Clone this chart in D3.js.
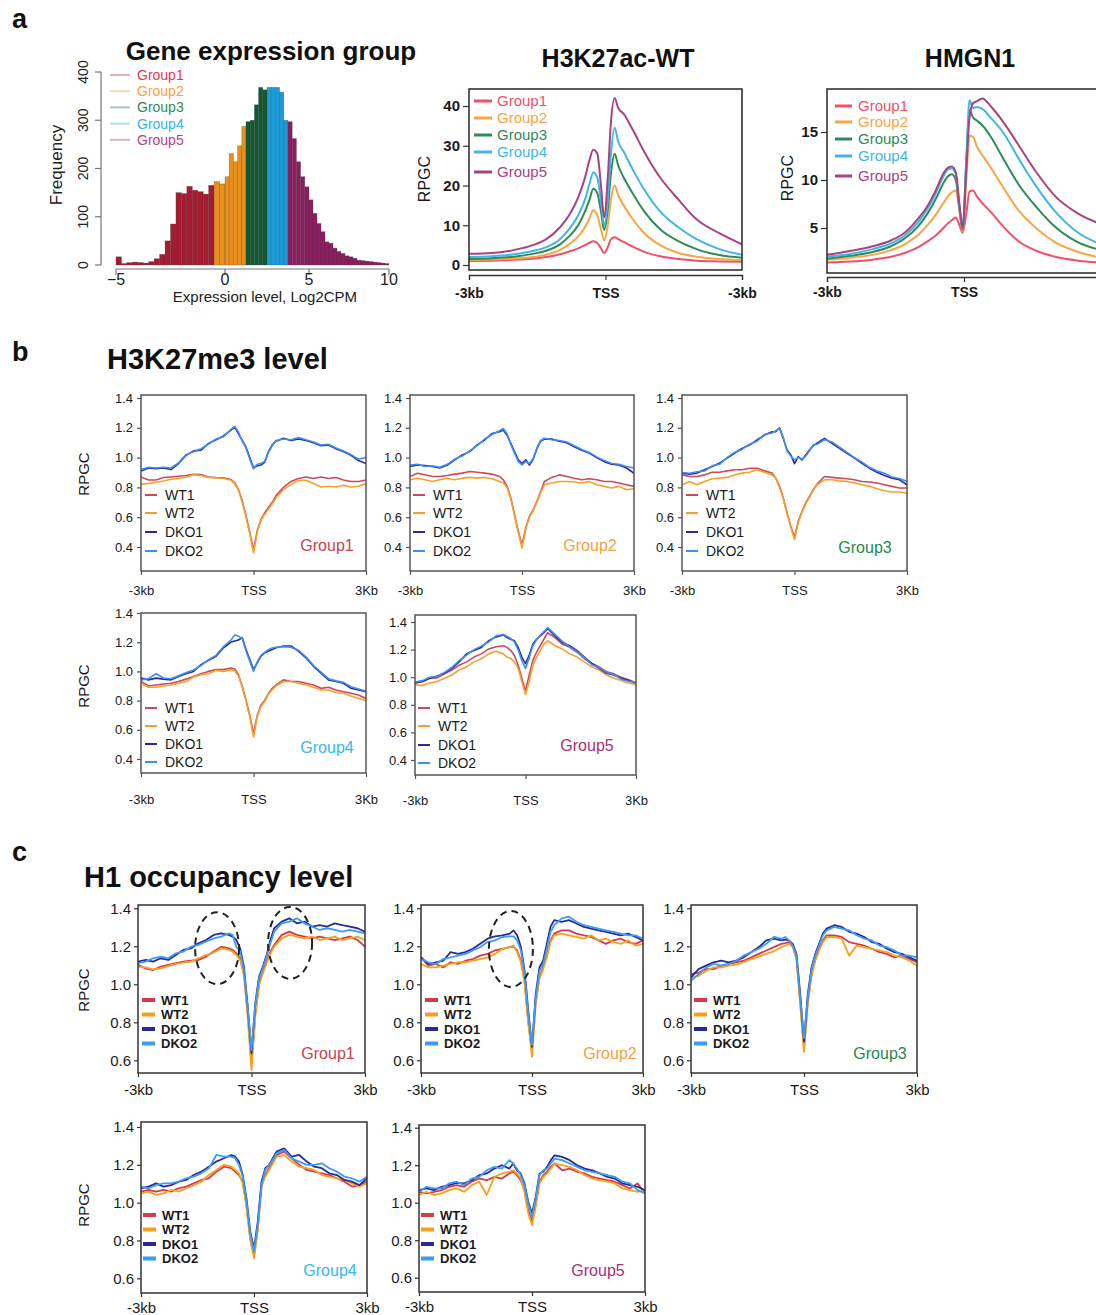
<!DOCTYPE html>
<html><head><meta charset="utf-8">
<script src="https://cdn.jsdelivr.net/npm/d3@7/dist/d3.min.js"></script>
<style>
body{margin:0;background:#fff;}
svg{display:block;}
</style></head><body>
<svg id="fig" width="1096" height="1315"></svg>
<script>
// ================= DATA =================
// Histogram (panel a, left)
const histBinStart = [-5,-4.75,-4.5,-4.25,-4,-3.75,-3.5,-3.25,-3,-2.75,-2.5,-2.25,-2,-1.75,-1.5,-1.25,-1,-0.75,-0.5,-0.25,
  0,0.25,0.5,0.75,1,1.25,1.5,1.75,2,2.25,2.5,2.75,3,3.25,3.5,3.75,4,4.25,4.5,4.75,
  5,5.25,5.5,5.75,6,6.25,6.5,6.75,7,7.25,7.5,7.75,8,8.25,8.5,8.75,9,9.25,9.5,9.75];
const histBinWidth = 0.25;
const histCounts = [17,3,5,6,5,4,7,13,22,50,85,150,148,163,155,152,147,165,173,168,
  183,231,214,247,287,297,300,332,368,363,368,368,368,358,300,297,262,214,183,162,
  135,107,86,69,48,45,35,28,24,19,17,14,10,9,8,7,6,5,4,3];
const groupBreaks = [-0.5, 1.25, 2.5, 3.75];
const groupNames = ["Group1","Group2","Group3","Group4","Group5"];
const histXTicks = [-5, 0, 5, 10];
const histYTicks = [0, 100, 200, 300, 400];

// Profiles (panel a, H3K27ac-WT and HMGN1), positions in kb
const aPos = [-3,-2.5,-2,-1.6,-1.3,-1.0,-0.8,-0.6,-0.45,-0.35,-0.27,-0.18,-0.1,-0.03,0.05,0.12,0.2,0.28,0.4,0.6,0.85,1.2,1.6,2.0,2.5,3.0];
const acG1 = [1.0,1.1,1.3,1.6,2.0,2.7,3.4,4.2,5.0,5.6,6.0,5.5,4.2,3.0,4.5,6.5,7.0,6.5,5.8,4.6,3.3,2.2,1.5,1.1,0.9,0.8];
const acG2 = [1.2,1.4,1.6,2.0,2.6,3.8,5.2,7.2,9.5,11.8,13.8,12.5,9.0,6.2,10.0,16.5,20.0,17.5,15.0,11.5,8.0,5.0,3.0,2.1,1.5,1.2];
const acG3 = [1.5,1.7,2.1,2.8,3.6,5.2,7.2,10.0,13.5,16.5,19.2,18.0,13.5,8.8,14.0,23.0,28.0,25.0,22.0,18.0,13.5,9.0,6.0,4.0,2.5,1.8];
const acG4 = [2.0,2.2,2.7,3.5,4.5,6.5,9.0,12.5,16.5,20.5,23.3,22.0,16.0,10.0,16.0,28.0,34.5,31.0,28.5,24.0,19.0,13.5,9.5,6.5,4.0,2.6];
const acG5 = [2.8,3.0,3.8,5.0,6.5,9.5,12.5,17.0,22.0,26.5,29.0,28.0,20.0,12.0,22.0,36.0,42.0,39.5,38.0,34.0,28.5,22.0,16.5,11.5,8.0,5.2];
const hmG1 = [1.4,1.5,1.7,2.0,2.4,3.0,3.6,4.3,5.0,5.5,5.8,6.1,5.3,4.5,6.5,8.8,8.9,8.3,7.6,6.6,5.2,3.6,2.6,2.0,1.6,1.4];
const hmG2 = [1.7,1.9,2.2,2.7,3.3,4.3,5.3,6.5,7.6,8.3,8.7,8.9,6.8,4.6,10.0,14.6,14.5,13.5,12.6,11.2,9.3,6.8,4.9,3.5,2.5,1.9];
const hmG3 = [1.8,2.1,2.5,3.1,3.9,5.2,6.5,8.2,9.7,10.4,10.6,10.0,7.0,4.8,12.0,17.3,16.5,16.2,15.7,14.4,12.3,9.5,7.1,5.1,3.5,2.7];
const hmG4 = [2.0,2.3,2.8,3.4,4.2,5.6,7.0,8.8,10.4,11.1,11.2,10.6,7.3,4.9,12.0,18.3,17.5,17.6,17.4,16.4,15.0,12.2,9.2,6.7,4.5,3.3];
const hmG5 = [2.2,2.6,3.1,3.7,4.5,6.0,7.3,9.1,10.7,11.3,11.4,10.8,7.5,5.0,11.0,16.5,18.0,18.2,18.5,17.6,16.1,13.6,10.7,8.3,6.5,5.4];

// Profiles (panels b and c), positions in kb
const bcPos = [-3.0,-2.8,-2.6,-2.4,-2.2,-2.0,-1.8,-1.6,-1.4,-1.2,-1.0,-0.8,-0.6,-0.5,-0.4,-0.3,-0.2,-0.1,0,0.1,0.2,0.3,0.4,0.5,0.6,0.8,1.0,1.2,1.4,1.6,1.8,2.0,2.2,2.4,2.6,2.8,3.0];
const sampleNames = ["WT1","WT2","DKO1","DKO2"];

// H3K27me3 (panel b)
const me3G1_WT1 = [0.87,0.85,0.85,0.866,0.87,0.875,0.88,0.888,0.886,0.87,0.866,0.864,0.853,0.83,0.785,0.71,0.61,0.50,0.38,0.51,0.585,0.63,0.665,0.70,0.745,0.80,0.84,0.86,0.87,0.86,0.87,0.86,0.866,0.85,0.84,0.84,0.85];
const me3G1_WT2 = [0.82,0.826,0.835,0.843,0.855,0.86,0.868,0.885,0.88,0.866,0.864,0.86,0.848,0.825,0.78,0.70,0.60,0.49,0.36,0.50,0.58,0.62,0.655,0.69,0.73,0.785,0.82,0.848,0.848,0.826,0.803,0.808,0.803,0.814,0.803,0.808,0.826];
const me3G1_DKO1 = [0.91,0.93,0.925,0.93,0.92,0.96,1.015,1.045,1.05,1.095,1.12,1.145,1.185,1.205,1.16,1.115,1.07,1.0,0.93,0.945,0.95,0.97,1.04,1.085,1.11,1.13,1.115,1.125,1.115,1.1,1.08,1.085,1.06,1.04,1.015,0.98,0.96];
const me3G1_DKO2 = [0.92,0.935,0.93,0.935,0.93,0.965,1.02,1.04,1.06,1.09,1.125,1.14,1.19,1.21,1.17,1.11,1.065,0.99,0.925,0.955,0.96,0.975,1.035,1.08,1.115,1.125,1.12,1.135,1.12,1.105,1.085,1.09,1.065,1.045,1.02,0.99,1.0];
const me3G2_WT1 = [0.873,0.895,0.885,0.873,0.873,0.88,0.889,0.896,0.907,0.902,0.896,0.889,0.873,0.851,0.807,0.73,0.618,0.507,0.41,0.53,0.607,0.65,0.707,0.773,0.84,0.867,0.884,0.873,0.862,0.851,0.858,0.851,0.84,0.84,0.829,0.818,0.807];
const me3G2_WT2 = [0.851,0.862,0.851,0.84,0.851,0.862,0.851,0.862,0.867,0.862,0.867,0.858,0.84,0.829,0.80,0.725,0.61,0.50,0.395,0.52,0.60,0.645,0.70,0.765,0.818,0.829,0.84,0.84,0.836,0.829,0.84,0.818,0.807,0.796,0.807,0.784,0.791];
const me3G2_DKO1 = [0.94,0.95,0.947,0.94,0.93,0.95,0.985,1.018,1.04,1.085,1.118,1.162,1.173,1.185,1.15,1.095,1.04,0.985,0.96,0.985,0.95,0.99,1.06,1.11,1.124,1.124,1.11,1.10,1.073,1.05,1.03,1.0,0.973,0.955,0.95,0.93,0.895];
const me3G2_DKO2 = [0.95,0.955,0.94,0.945,0.935,0.955,0.99,1.01,1.045,1.08,1.125,1.155,1.18,1.195,1.16,1.09,1.03,0.975,0.95,0.975,0.96,0.995,1.065,1.115,1.13,1.12,1.115,1.105,1.08,1.055,1.035,1.005,0.98,0.96,0.955,0.94,0.93];
const me3G3_WT1 = [0.884,0.873,0.873,0.884,0.902,0.902,0.911,0.918,0.918,0.929,0.929,0.911,0.896,0.862,0.807,0.73,0.63,0.54,0.465,0.573,0.64,0.696,0.74,0.784,0.822,0.873,0.867,0.862,0.858,0.851,0.84,0.836,0.829,0.818,0.807,0.796,0.796];
const me3G3_WT2 = [0.818,0.84,0.818,0.84,0.858,0.862,0.867,0.884,0.896,0.902,0.918,0.902,0.884,0.862,0.80,0.725,0.625,0.535,0.45,0.565,0.635,0.69,0.735,0.78,0.818,0.851,0.851,0.844,0.84,0.829,0.818,0.807,0.791,0.778,0.769,0.769,0.762];
const me3G3_DKO1 = [0.896,0.889,0.896,0.918,0.94,0.962,0.996,1.029,1.062,1.084,1.118,1.151,1.173,1.173,1.2,1.129,1.051,1.018,0.96,1.007,0.984,1.018,1.051,1.08,1.096,1.129,1.096,1.062,1.029,0.996,0.962,0.929,0.902,0.88,0.862,0.851,0.818];
const me3G3_DKO2 = [0.90,0.895,0.905,0.91,0.945,0.955,1.0,1.035,1.055,1.09,1.11,1.155,1.165,1.18,1.195,1.135,1.045,1.01,0.985,1.0,0.99,1.01,1.045,1.085,1.09,1.12,1.105,1.07,1.035,1.0,0.97,0.935,0.91,0.895,0.87,0.86,0.84];
const me3G4_WT1 = [0.931,0.9,0.907,0.914,0.919,0.931,0.947,0.965,0.984,1.0,1.012,1.012,1.023,1.016,0.977,0.896,0.803,0.70,0.572,0.70,0.769,0.803,0.85,0.884,0.907,0.942,0.931,0.931,0.919,0.907,0.884,0.891,0.873,0.861,0.85,0.838,0.815];
const me3G4_WT2 = [0.919,0.891,0.891,0.9,0.907,0.919,0.931,0.961,0.977,0.984,1.007,1.0,1.012,1.005,0.97,0.89,0.795,0.69,0.55,0.69,0.76,0.795,0.845,0.875,0.9,0.931,0.931,0.919,0.907,0.891,0.873,0.873,0.854,0.85,0.831,0.815,0.80];
const me3G4_DKO1 = [0.954,0.942,0.954,0.947,0.942,0.965,0.984,1.0,1.046,1.076,1.104,1.162,1.201,1.208,1.215,1.231,1.15,1.081,1.012,1.058,1.104,1.127,1.139,1.15,1.162,1.174,1.174,1.139,1.093,1.035,0.988,0.942,0.931,0.919,0.884,0.873,0.861];
const me3G4_DKO2 = [0.942,0.95,0.984,0.955,0.95,0.97,0.99,1.01,1.04,1.08,1.11,1.17,1.215,1.25,1.24,1.225,1.14,1.07,1.0,1.065,1.11,1.13,1.15,1.16,1.165,1.17,1.165,1.145,1.1,1.04,0.995,0.95,0.935,0.925,0.895,0.88,0.865];
const me3G5_WT1 = [0.958,0.969,0.993,0.995,1.024,1.052,1.087,1.111,1.146,1.169,1.205,1.221,1.228,1.216,1.193,1.158,1.087,0.993,0.899,1.016,1.122,1.181,1.228,1.275,1.322,1.287,1.24,1.216,1.181,1.134,1.099,1.075,1.04,1.024,1.0,0.981,0.958];
const me3G5_WT2 = [0.946,0.939,0.958,0.969,0.993,1.016,1.052,1.075,1.111,1.134,1.169,1.188,1.169,1.146,1.134,1.111,1.064,0.969,0.875,0.969,1.087,1.146,1.193,1.24,1.264,1.228,1.205,1.169,1.146,1.111,1.075,1.052,1.016,0.993,0.976,0.958,0.946];
const me3G5_DKO1 = [0.958,0.969,0.993,1.009,1.028,1.064,1.111,1.169,1.193,1.216,1.264,1.292,1.306,1.287,1.275,1.264,1.216,1.146,1.099,1.158,1.24,1.275,1.299,1.322,1.353,1.299,1.252,1.228,1.193,1.146,1.099,1.064,1.028,1.016,0.993,0.976,0.958];
const me3G5_DKO2 = [0.965,0.975,1.0,1.005,1.035,1.07,1.12,1.16,1.2,1.225,1.255,1.3,1.31,1.295,1.28,1.255,1.2,1.12,1.064,1.14,1.23,1.27,1.305,1.33,1.36,1.31,1.26,1.22,1.185,1.14,1.09,1.07,1.035,1.02,0.985,0.97,0.965];

// H1 occupancy (panel c)
const h1G1_WT1 = [1.102,1.084,1.075,1.093,1.102,1.111,1.119,1.125,1.128,1.146,1.172,1.198,1.189,1.181,1.163,1.137,1.058,0.847,0.584,0.847,1.005,1.067,1.119,1.172,1.207,1.26,1.277,1.26,1.251,1.242,1.251,1.242,1.233,1.242,1.251,1.233,1.198];
const h1G1_WT2 = [1.093,1.089,1.079,1.084,1.096,1.107,1.114,1.119,1.137,1.154,1.167,1.189,1.181,1.172,1.154,1.128,1.049,0.83,0.549,0.83,0.996,1.058,1.111,1.163,1.198,1.242,1.26,1.251,1.242,1.251,1.233,1.242,1.251,1.233,1.242,1.251,1.233];
const h1G1_DKO1 = [1.119,1.128,1.119,1.137,1.128,1.154,1.181,1.189,1.216,1.233,1.26,1.268,1.26,1.251,1.233,1.189,1.093,0.882,0.637,0.90,1.04,1.093,1.154,1.233,1.295,1.33,1.347,1.321,1.33,1.304,1.312,1.304,1.321,1.312,1.304,1.295,1.277];
const h1G1_DKO2 = [1.111,1.119,1.137,1.146,1.137,1.163,1.172,1.198,1.207,1.225,1.242,1.251,1.268,1.26,1.198,1.172,1.075,0.874,0.654,0.89,1.032,1.084,1.146,1.216,1.277,1.321,1.33,1.347,1.321,1.304,1.286,1.295,1.286,1.277,1.286,1.277,1.268];
const h1G2_WT1 = [1.142,1.098,1.107,1.089,1.116,1.107,1.124,1.133,1.151,1.16,1.178,1.187,1.196,1.199,1.178,1.124,1.018,0.804,0.644,0.911,1.036,1.089,1.151,1.231,1.267,1.284,1.284,1.267,1.258,1.249,1.231,1.213,1.231,1.24,1.222,1.213,1.231];
const h1G2_WT2 = [1.107,1.089,1.089,1.098,1.107,1.116,1.116,1.124,1.133,1.142,1.16,1.187,1.196,1.204,1.169,1.116,1.009,0.796,0.618,0.893,1.027,1.08,1.142,1.222,1.258,1.267,1.258,1.249,1.24,1.258,1.231,1.24,1.222,1.213,1.231,1.204,1.213];
const h1G2_DKO1 = [1.142,1.107,1.116,1.124,1.169,1.16,1.169,1.187,1.213,1.24,1.252,1.258,1.267,1.284,1.258,1.196,1.071,0.858,0.671,0.947,1.089,1.124,1.213,1.302,1.338,1.329,1.338,1.32,1.302,1.293,1.284,1.276,1.267,1.258,1.267,1.249,1.231];
const h1G2_DKO2 = [1.133,1.116,1.107,1.133,1.142,1.151,1.16,1.178,1.196,1.222,1.231,1.249,1.252,1.252,1.231,1.178,1.053,0.84,0.68,0.929,1.071,1.107,1.187,1.276,1.311,1.347,1.356,1.329,1.311,1.302,1.293,1.284,1.276,1.267,1.258,1.258,1.24];
const h1G3_WT1 = [1.053,1.062,1.08,1.08,1.098,1.107,1.116,1.124,1.142,1.16,1.178,1.196,1.213,1.217,1.222,1.204,1.142,0.911,0.662,0.911,1.053,1.133,1.187,1.231,1.258,1.258,1.249,1.222,1.213,1.204,1.187,1.169,1.16,1.142,1.151,1.133,1.116];
const h1G3_WT2 = [1.036,1.044,1.071,1.089,1.089,1.098,1.103,1.116,1.133,1.146,1.16,1.174,1.196,1.204,1.213,1.196,1.133,0.893,0.644,0.893,1.044,1.124,1.178,1.222,1.249,1.249,1.24,1.151,1.204,1.196,1.187,1.178,1.169,1.151,1.142,1.124,1.098];
const h1G3_DKO1 = [1.036,1.08,1.098,1.116,1.124,1.116,1.124,1.142,1.169,1.196,1.231,1.24,1.231,1.235,1.231,1.213,1.16,0.947,0.698,0.947,1.089,1.16,1.213,1.267,1.293,1.311,1.302,1.276,1.267,1.249,1.222,1.213,1.187,1.169,1.16,1.142,1.124];
const h1G3_DKO2 = [1.018,1.053,1.089,1.107,1.098,1.107,1.124,1.151,1.169,1.187,1.213,1.249,1.24,1.249,1.231,1.204,1.151,0.929,0.716,0.929,1.08,1.151,1.204,1.258,1.284,1.302,1.293,1.284,1.258,1.24,1.231,1.204,1.196,1.178,1.151,1.151,1.142];
const h1G4_WT1 = [1.058,1.067,1.058,1.067,1.058,1.076,1.085,1.102,1.12,1.129,1.164,1.19,1.182,1.164,1.146,1.111,0.988,0.811,0.723,0.864,1.093,1.146,1.182,1.217,1.252,1.27,1.235,1.2,1.173,1.164,1.155,1.146,1.129,1.111,1.085,1.093,1.111];
const h1G4_WT2 = [1.049,1.058,1.041,1.049,1.067,1.058,1.076,1.093,1.111,1.146,1.173,1.2,1.19,1.173,1.155,1.102,0.979,0.802,0.705,0.855,1.085,1.138,1.173,1.208,1.243,1.252,1.217,1.19,1.182,1.173,1.146,1.138,1.129,1.12,1.102,1.085,1.102];
const h1G4_DKO1 = [1.076,1.085,1.102,1.085,1.093,1.111,1.12,1.146,1.164,1.19,1.217,1.235,1.252,1.243,1.217,1.146,1.023,0.847,0.758,0.9,1.111,1.182,1.2,1.235,1.27,1.287,1.243,1.252,1.217,1.19,1.182,1.155,1.146,1.12,1.111,1.093,1.129];
const h1G4_DKO2 = [1.085,1.076,1.093,1.102,1.102,1.111,1.129,1.138,1.155,1.182,1.252,1.243,1.243,1.235,1.2,1.138,1.014,0.838,0.741,0.882,1.093,1.173,1.2,1.226,1.261,1.279,1.235,1.217,1.2,1.2,1.208,1.182,1.164,1.138,1.129,1.111,1.138];
const h1G5_WT1 = [1.058,1.05,1.058,1.067,1.085,1.094,1.085,1.112,1.129,1.12,1.138,1.129,1.156,1.165,1.147,1.12,1.067,0.961,0.899,0.996,1.112,1.147,1.165,1.191,1.209,1.173,1.182,1.165,1.156,1.138,1.129,1.12,1.112,1.094,1.076,1.103,1.05];
const h1G5_WT2 = [1.041,1.058,1.041,1.05,1.067,1.076,1.058,1.094,1.112,1.041,1.138,1.156,1.165,1.173,1.156,1.129,1.058,0.943,0.881,0.979,1.103,1.138,1.156,1.182,1.209,1.2,1.191,1.173,1.147,1.129,1.12,1.112,1.103,1.076,1.067,1.058,1.067];
const h1G5_DKO1 = [1.067,1.076,1.067,1.085,1.094,1.106,1.103,1.12,1.147,1.156,1.182,1.2,1.182,1.209,1.173,1.156,1.103,1.005,0.943,1.032,1.156,1.165,1.191,1.227,1.253,1.244,1.227,1.2,1.182,1.173,1.156,1.138,1.129,1.103,1.094,1.085,1.067];
const h1G5_DKO2 = [1.058,1.085,1.076,1.076,1.103,1.112,1.094,1.129,1.138,1.173,1.191,1.182,1.227,1.209,1.182,1.147,1.094,0.996,0.926,1.023,1.147,1.173,1.182,1.209,1.235,1.227,1.209,1.191,1.173,1.165,1.156,1.147,1.138,1.112,1.103,1.067,1.05];

const xTickKb = [-3, 0, 3];
const tickLabelsA = ["-3kb", "TSS", "-3kb"];
const tickLabelsHM = ["-3kb", "TSS", ""];
const tickLabelsB = ["-3kb", "TSS", "3Kb"];
const tickLabelsC = ["-3kb", "TSS", "3kb"];
const ticksAc = [0, 10, 20, 30, 40];
const ticksHm = [5, 10, 15];
const ticksB = [0.4, 0.6, 0.8, 1.0, 1.2, 1.4];
const ticksC = [0.6, 0.8, 1.0, 1.2, 1.4];

// ================= STYLE =================
const FONT = "'Liberation Sans', Arial, Helvetica, sans-serif";
const NARROW = "'Liberation Sans Narrow', 'Arial Narrow', 'Liberation Sans', Arial, sans-serif";
const histColors = ["#a51c30", "#e8901e", "#0f5a32", "#1c9bd7", "#8e1c60"];
const histLegText = ["#e8384f", "#f5a33a", "#2e8b57", "#35b4ea", "#b4437f"];
const profColors = ["#f0506a", "#f7a545", "#2e8b57", "#41b6e6", "#a8437f"];
const bColors = ["#cc4a5a", "#f5a12e", "#2b2b8c", "#3d8ff5"];
const cColors = ["#d63a4a", "#f7a01c", "#2a2a95", "#3a9cf5"];
const groupLabelColors = ["#c8434f", "#f5a040", "#1f8a4c", "#35b8f0", "#a8306f"];

const svg = d3.select("#fig");
svg.append("rect").attr("width", 1096).attr("height", 1315).attr("fill", "#fff");
const defs = svg.append("defs");
let clipCount = 0;

function txt(x, y, s, size, opts = {}) {
  const t = svg.append("text").attr("x", x).attr("y", y).text(s)
    .attr("font-family", opts.family || FONT).attr("font-size", size)
    .attr("font-weight", opts.weight || "normal").attr("fill", opts.fill || "#111")
    .attr("text-anchor", opts.anchor || "start");
  if (opts.dy) t.attr("dy", opts.dy);
  if (opts.rotate) t.attr("transform", `rotate(${opts.rotate},${x},${y})`);
  return t;
}

// ================= PANEL LETTERS & TITLES =================
txt(12, 28, "a", 27, {weight: "bold"});
txt(12, 361, "b", 27, {weight: "bold"});
txt(12, 861, "c", 27, {weight: "bold"});
txt(271, 60, "Gene expression group", 26, {weight: "bold", anchor: "middle"});
txt(618, 67, "H3K27ac-WT", 25, {weight: "bold", anchor: "middle"});
txt(970, 67, "HMGN1", 25, {weight: "bold", anchor: "middle"});
txt(107, 369, "H3K27me3 level", 29, {weight: "bold"});
txt(84, 887, "H1 occupancy level", 29, {weight: "bold"});

// ================= HISTOGRAM =================
(function () {
  const hx = d3.scaleLinear().domain([-5, 0, 5, 10]).range([116, 225, 309, 389]);
  const hy = d3.scaleLinear().domain([0, 400]).range([265, 72]);
  const col = d3.scaleThreshold().domain(groupBreaks).range(histColors);
  const g = svg.append("g");
  g.selectAll("rect.bar").data(histCounts).join("rect").attr("class", "bar")
    .attr("x", (d, i) => hx(histBinStart[i]))
    .attr("width", (d, i) => hx(histBinStart[i] + histBinWidth) - hx(histBinStart[i]))
    .attr("y", d => hy(d)).attr("height", d => hy(0) - hy(d))
    .attr("fill", (d, i) => col(histBinStart[i] + histBinWidth / 2))
    .attr("stroke", "rgba(60,60,60,0.45)").attr("stroke-width", 0.6);
  // y axis (R style)
  g.append("line").attr("x1", 101).attr("x2", 101).attr("y1", hy(0)).attr("y2", hy(400)).attr("stroke", "#777").attr("stroke-width", 1.2);
  histYTicks.forEach(v => {
    g.append("line").attr("x1", 95).attr("x2", 101).attr("y1", hy(v)).attr("y2", hy(v)).attr("stroke", "#777").attr("stroke-width", 1.2);
    txt(88, hy(v), String(v), 14, {anchor: "middle", rotate: -90, fill: "#222"});
  });
  // x axis
  g.append("line").attr("x1", hx(-5)).attr("x2", hx(10)).attr("y1", 269).attr("y2", 269).attr("stroke", "#777").attr("stroke-width", 1.2);
  histXTicks.forEach(v => {
    g.append("line").attr("x1", hx(v)).attr("x2", hx(v)).attr("y1", 269).attr("y2", 275).attr("stroke", "#777").attr("stroke-width", 1.2);
    txt(hx(v), 285, v < 0 ? "\u2212" + Math.abs(v) : String(v), 16, {anchor: "middle", fill: "#222"});
  });
  txt(265, 302, "Expression level, Log2CPM", 15, {anchor: "middle", fill: "#222"});
  txt(62, 165, "Frequency", 17, {anchor: "middle", rotate: -90, fill: "#222"});
  // legend
  const ly = [75, 91.2, 107.4, 123.6, 139.8];
  groupNames.forEach((n, i) => {
    g.append("line").attr("x1", 110).attr("x2", 130).attr("y1", ly[i]).attr("y2", ly[i])
      .attr("stroke", histColors[i]).attr("stroke-opacity", 0.35).attr("stroke-width", 2);
    txt(137, ly[i], n, 14, {dy: "0.35em", fill: histLegText[i]});
  });
})();

// ================= PROFILE DRAWER =================
function drawProfile(o) {
  const g = svg.append("g");
  const x = d3.scaleLinear().domain([-3, 3]).range([o.x0, o.x1]);
  const y = d3.scaleLinear().domain(o.yDom).range(o.yRange);
  const cid = "clip" + (clipCount++);
  defs.append("clipPath").attr("id", cid).append("rect")
    .attr("x", o.x0).attr("y", o.y0).attr("width", o.x1 - o.x0).attr("height", o.y1 - o.y0);
  const line = d3.line().x((d, i) => x(o.pos[i])).y(d => y(d)).curve(o.curve || d3.curveLinear);
  const lg = g.append("g").attr("clip-path", `url(#${cid})`);
  o.series.forEach(s => {
    lg.append("path").attr("d", line(s.values)).attr("fill", "none")
      .attr("stroke", s.color).attr("stroke-width", o.lw)
      .attr("stroke-linejoin", "round").attr("stroke-linecap", "round");
  });
  g.append("rect").attr("x", o.x0).attr("y", o.y0).attr("width", o.x1 - o.x0).attr("height", o.y1 - o.y0)
    .attr("fill", "none").attr("stroke", o.boxColor).attr("stroke-width", o.boxW);
  // y axis
  const ya = g.append("g").attr("transform", `translate(${o.x0},0)`)
    .call(d3.axisLeft(y).tickValues(o.yTicks).tickSize(o.yTickLen).tickPadding(o.yPad).tickFormat(o.yFmt));
  ya.select(".domain").remove();
  ya.attr("font-family", o.family).attr("font-size", o.tickSize);
  ya.selectAll("line").attr("stroke", o.boxColor).attr("stroke-width", 1.2);
  ya.selectAll("text").attr("fill", "#1a1a1a").attr("font-weight", o.tickWeight);
  // x axis
  const xa = g.append("g").attr("transform", `translate(0,${o.xAxisY})`)
    .call(d3.axisBottom(x).tickValues(xTickKb).tickSize(o.xTickLen).tickFormat((d, i) => o.xLabels[i]));
  if (o.xAxisLine) xa.select(".domain").attr("stroke", o.boxColor).attr("stroke-width", 1.3);
  else xa.select(".domain").remove();
  xa.attr("font-family", o.family).attr("font-size", o.xLabSize);
  xa.selectAll("line").attr("stroke", o.boxColor).attr("stroke-width", 1.2);
  xa.selectAll("text").attr("y", o.xLabOff).attr("dy", "0.35em").attr("fill", "#1a1a1a").attr("font-weight", o.tickWeight);
  // legend
  o.series.forEach((s, i) => {
    g.append("line").attr("x1", o.leg.x0).attr("x2", o.leg.x1).attr("y1", o.leg.ys[i]).attr("y2", o.leg.ys[i])
      .attr("stroke", s.color).attr("stroke-width", o.leg.lw);
    txt(o.leg.tx, o.leg.ys[i], s.name, o.leg.size, {dy: "0.35em", family: o.leg.family || o.family,
      weight: o.leg.weight || "normal", fill: o.leg.colored ? s.color : "#1a1a1a"});
  });
  // group label
  if (o.group) txt(o.group.x, o.group.y, o.group.text, o.group.size, {anchor: "middle", dy: "0.35em", fill: o.group.color});
  // y label
  if (o.ylab) txt(o.ylab.x, o.ylab.y, "RPGC", o.ylab.size, {anchor: "middle", rotate: -90, dy: "0.35em", fill: "#1a1a1a"});
  // dashed ellipses
  (o.ellipses || []).forEach(e => {
    g.append("ellipse").attr("cx", x(e.kb)).attr("cy", y(e.v)).attr("rx", e.rx).attr("ry", e.ry)
      .attr("fill", "none").attr("stroke", "#222").attr("stroke-width", 2).attr("stroke-dasharray", "7,5");
  });
}

// ================= PANEL a PROFILES =================
const acSeries = [acG1, acG2, acG3, acG4, acG5].map((v, i) => ({name: groupNames[i], values: v, color: profColors[i]}));
drawProfile({x0: 469, x1: 742, y0: 89, y1: 270, yDom: [0, 40], yRange: [265, 106], pos: aPos,
  series: acSeries, curve: d3.curveMonotoneX, lw: 2, boxColor: "#333", boxW: 1.6,
  yTicks: ticksAc, yTickLen: 6, yPad: 3, yFmt: d3.format("d"), family: FONT, tickSize: 15, tickWeight: "bold",
  xAxisY: 275, xTickLen: 5, xAxisLine: true, xLabels: tickLabelsA, xLabSize: 14, xLabOff: 18,
  leg: {x0: 474, x1: 492, tx: 497, ys: [101, 118, 135, 152, 172], lw: 3, size: 15, colored: true},
  ylab: {x: 424, y: 179, size: 16}});

const hmSeries = [hmG1, hmG2, hmG3, hmG4, hmG5].map((v, i) => ({name: groupNames[i], values: v, color: profColors[i]}));
drawProfile({x0: 827, x1: 1101, y0: 89, y1: 273, yDom: [0, 15], yRange: [276, 132], pos: aPos,
  series: hmSeries, curve: d3.curveMonotoneX, lw: 2, boxColor: "#333", boxW: 1.6,
  yTicks: ticksHm, yTickLen: 6, yPad: 3, yFmt: d3.format("d"), family: FONT, tickSize: 15, tickWeight: "bold",
  xAxisY: 277, xTickLen: 5, xAxisLine: true, xLabels: tickLabelsHM, xLabSize: 14, xLabOff: 15,
  leg: {x0: 835, x1: 852, tx: 858, ys: [106, 122, 139, 156, 176], lw: 3, size: 15, colored: true},
  ylab: {x: 787, y: 178, size: 16}});

// ================= PANEL b =================
const me3Data = [
  [me3G1_WT1, me3G1_WT2, me3G1_DKO1, me3G1_DKO2],
  [me3G2_WT1, me3G2_WT2, me3G2_DKO1, me3G2_DKO2],
  [me3G3_WT1, me3G3_WT2, me3G3_DKO1, me3G3_DKO2],
  [me3G4_WT1, me3G4_WT2, me3G4_DKO1, me3G4_DKO2],
  [me3G5_WT1, me3G5_WT2, me3G5_DKO1, me3G5_DKO2]];
const bLayout = [
  {x0: 141, x1: 366, y0: 395, y1: 571, yr: [547, 398], xo: 19, lx: 145, ly: [495, 513, 532, 551], gx: 327, gy: 545, ylab: 474},
  {x0: 410, x1: 634, y0: 395, y1: 571, yr: [547, 398], xo: 19, lx: 413, ly: [495, 513, 532, 551], gx: 590, gy: 545},
  {x0: 682, x1: 907, y0: 395, y1: 571, yr: [547, 398], xo: 19, lx: 686, ly: [495, 513, 532, 551], gx: 865, gy: 547},
  {x0: 141, x1: 366, y0: 613, y1: 773, yr: [759, 613], xo: 26, lx: 145, ly: [708, 726, 744, 762], gx: 327, gy: 747, ylab: 686},
  {x0: 415, x1: 636, y0: 615, y1: 775, yr: [760, 622], xo: 25, lx: 418, ly: [708, 726, 745, 763], gx: 587, gy: 745}];
bLayout.forEach((L, k) => {
  drawProfile({x0: L.x0, x1: L.x1, y0: L.y0, y1: L.y1, yDom: [0.4, 1.4], yRange: L.yr, pos: bcPos,
    series: me3Data[k].map((v, i) => ({name: sampleNames[i], values: v, color: bColors[i]})),
    lw: 1.6, boxColor: "#555", boxW: 1.5,
    yTicks: ticksB, yTickLen: 4, yPad: 4, yFmt: d3.format(".1f"), family: NARROW, tickSize: 13, tickWeight: "normal",
    xAxisY: L.y1, xTickLen: 4, xAxisLine: false, xLabels: tickLabelsB, xLabSize: 13, xLabOff: L.xo,
    leg: {x0: L.lx, x1: L.lx + 12, tx: L.lx + 20, ys: L.ly, lw: 2, size: 14},
    group: {text: groupNames[k], x: L.gx, y: L.gy, size: 16, color: groupLabelColors[k]},
    ylab: L.ylab ? {x: 84, y: L.ylab, size: 15} : null});
});

// ================= PANEL c =================
const h1Data = [
  [h1G1_WT1, h1G1_WT2, h1G1_DKO1, h1G1_DKO2],
  [h1G2_WT1, h1G2_WT2, h1G2_DKO1, h1G2_DKO2],
  [h1G3_WT1, h1G3_WT2, h1G3_DKO1, h1G3_DKO2],
  [h1G4_WT1, h1G4_WT2, h1G4_DKO1, h1G4_DKO2],
  [h1G5_WT1, h1G5_WT2, h1G5_DKO1, h1G5_DKO2]];
const cLegRows1 = [1000, 1014.5, 1029, 1043.5];
const cLegRows2 = [1215, 1229.5, 1244, 1258.5];
const cLayout = [
  {x0: 138, x1: 365, y0: 905, y1: 1073, yr: [1060.3, 908.3], xo: 17, lx: 142, ly: cLegRows1, gx: 328, gy: 1053, ylab: 990,
    ell: [{kb: -0.91, v: 1.19, rx: 22, ry: 36}, {kb: 1.02, v: 1.218, rx: 22, ry: 36}]},
  {x0: 421, x1: 643, y0: 905, y1: 1073, yr: [1060.3, 908.3], xo: 17, lx: 425, ly: cLegRows1, gx: 610, gy: 1053,
    ell: [{kb: -0.57, v: 1.186, rx: 22, ry: 38}]},
  {x0: 691, x1: 917, y0: 905, y1: 1073, yr: [1060.3, 908.3], xo: 17, lx: 694, ly: cLegRows1, gx: 880, gy: 1053},
  {x0: 141, x1: 367, y0: 1122, y1: 1293, yr: [1278.3, 1127], xo: 15, lx: 143, ly: cLegRows2, gx: 330, gy: 1270, ylab: 1205},
  {x0: 419, x1: 645, y0: 1125, y1: 1292, yr: [1277.7, 1127.7], xo: 15, lx: 421, ly: cLegRows2, gx: 598, gy: 1270}];
cLayout.forEach((L, k) => {
  drawProfile({x0: L.x0, x1: L.x1, y0: L.y0, y1: L.y1, yDom: [0.6, 1.4], yRange: L.yr, pos: bcPos,
    series: h1Data[k].map((v, i) => ({name: sampleNames[i], values: v, color: cColors[i]})),
    lw: 1.8, boxColor: "#333", boxW: 1.5,
    yTicks: ticksC, yTickLen: 4, yPad: 3, yFmt: d3.format(".1f"), family: FONT, tickSize: 15, tickWeight: "normal",
    xAxisY: L.y1, xTickLen: 4, xAxisLine: false, xLabels: tickLabelsC, xLabSize: 15, xLabOff: L.xo,
    leg: {x0: L.lx, x1: L.lx + 13, tx: L.lx + 19, ys: L.ly, lw: 4, size: 13, weight: "bold"},
    group: {text: groupNames[k], x: L.gx, y: L.gy, size: 16, color: groupLabelColors[k]},
    ylab: L.ylab ? {x: 84, y: L.ylab, size: 15} : null,
    ellipses: L.ell || []});
});
</script>
</body></html>
